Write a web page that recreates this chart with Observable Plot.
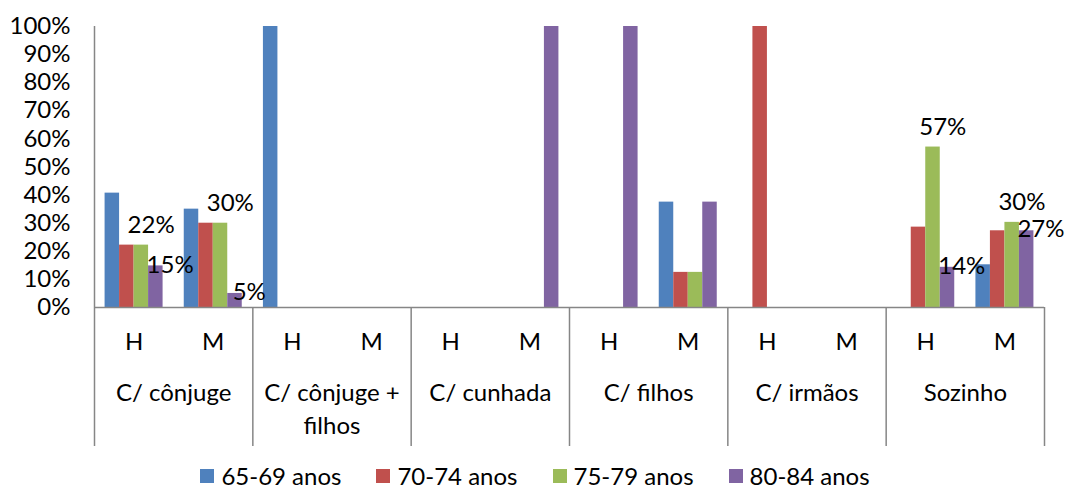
<!DOCTYPE html>
<html><head><meta charset="utf-8">
<script src="https://cdn.jsdelivr.net/npm/d3@7"></script>
<script src="https://cdn.jsdelivr.net/npm/@observablehq/plot@0.6"></script>
<style>
body{margin:0;background:#fff;font-family:Lato,sans-serif;}
#legend{display:flex;justify-content:center;gap:35px;font-size:24px;color:#000;margin-top:17px;line-height:24px;padding-left:4px;}
.item{display:flex;align-items:center;}
.sw{width:14px;height:14px;margin-right:7px;}
</style></head><body>
<div id="chart"></div><div id="legend"></div>
<script>
const categories = ["C/ cônjuge", "C/ cônjuge + filhos", "C/ cunhada", "C/ filhos", "C/ irmãos", "Sozinho"];
const sexes = ["H", "M"];
const series = ["65-69 anos", "70-74 anos", "75-79 anos", "80-84 anos"];
const colors = ["#4F81BD", "#C0504D", "#9BBB59", "#8064A2"];
// values per series, ordered category × sex (H, M)
const v6569 = [0.407, 0.35, 1, 0, 0, 0, 0, 0.375, 0, 0, 0, 0.152];
const v7074 = [0.222, 0.30, 0, 0, 0, 0, 0, 0.125, 1, 0, 0.286, 0.273];
const v7579 = [0.222, 0.30, 0, 0, 0, 0, 0, 0.125, 0, 0, 0.571, 0.303];
const v8084 = [0.148, 0.05, 0, 0, 0, 1, 1, 0.375, 0, 0, 0.143, 0.273];
const yTicks = [0, 0.1, 0.2, 0.3, 0.4, 0.5, 0.6, 0.7, 0.8, 0.9, 1];
const labelSeries = ["75-79 anos", "80-84 anos"];
const labelCategories = ["C/ cônjuge", "Sozinho"];

const valuesBySeries = [v6569, v7074, v7579, v8084];
const keys = categories.flatMap(c => sexes.map(s => c + "|" + s));
const rows = series.flatMap((s, k) => keys.map((key, i) => ({
  key, category: key.split("|")[0], sex: key.split("|")[1], series: s, value: valuesBySeries[k][i]
})));

const W = 1066, ML = 94, MR = 22, MT = 26, MB = 140, H = 447;
const bw = (W - ML - MR) / keys.length;
const barW = 14.5;
const pad = (bw - barW * series.length) / 2;
const gray = "#868686";
const pct = d => Math.round(d * 100) + "%";

const barMarks = series.map((s, k) => Plot.barY(rows.filter(d => d.series === s), {
  x: "key", y1: 0, y2: "value", fill: colors[k],
  insetLeft: pad + k * barW, insetRight: bw - pad - (k + 1) * barW
}));

const labelRows = rows.filter(d => labelSeries.includes(d.series) && labelCategories.includes(d.category));

const chart = Plot.plot({
  width: W, height: H,
  marginLeft: ML, marginRight: MR, marginTop: MT, marginBottom: MB,
  x: {domain: keys, padding: 0, round: false},
  y: {domain: [0, 1]},
  style: {fontFamily: "Lato, sans-serif", fontSize: "24px", color: "#000", background: "#fff", overflow: "visible"},
  marks: [
    ...barMarks,
    Plot.text(labelRows.filter(d => d.series === labelSeries[0]), {x: "key", y: "value", text: d => pct(d.value), dx: 17, dy: -20, fontSize: 24, fill: "#000"}),
    Plot.text(labelRows.filter(d => d.series === labelSeries[1]), {x: "key", y: "value", text: d => pct(d.value), dx: 36, dy: -1, fontSize: 24, fill: "#000"}),
    Plot.ruleY([0], {stroke: gray, strokeWidth: 1.5}),
    Plot.ruleX(categories, {x: c => c + "|H", dx: -bw / 2, y1: -0.4947, y2: (c, i) => i === 0 ? 1 : 0, stroke: gray, strokeWidth: 1.5}),
    Plot.ruleX([keys[keys.length - 1]], {x: d => d, dx: bw / 2, y1: -0.4947, y2: 0, stroke: gray, strokeWidth: 1.5}),
    Plot.axisY({ticks: yTicks, tickFormat: pct, tickSize: 0, tickPadding: 24, label: null, fontSize: 24}),
    Plot.axisX({tickFormat: d => d.split("|")[1], tickSize: 0, tickPadding: 25, label: null, fontSize: 24}),
    Plot.text(categories, {x: c => c + "|H", y: () => 0, dx: bw / 2, dy: 70, lineAnchor: "top", lineHeight: 1.375,
      text: c => c.replace(" + ", " +\n"), fontSize: 24, fill: "#000"})
  ]
});
document.getElementById("chart").appendChild(chart);

const legend = document.getElementById("legend");
series.forEach((s, k) => {
  const it = document.createElement("div"); it.className = "item";
  const sw = document.createElement("span"); sw.className = "sw"; sw.style.background = colors[k];
  const tx = document.createElement("span"); tx.textContent = s;
  it.appendChild(sw); it.appendChild(tx); legend.appendChild(it);
});
</script>
</body></html>
